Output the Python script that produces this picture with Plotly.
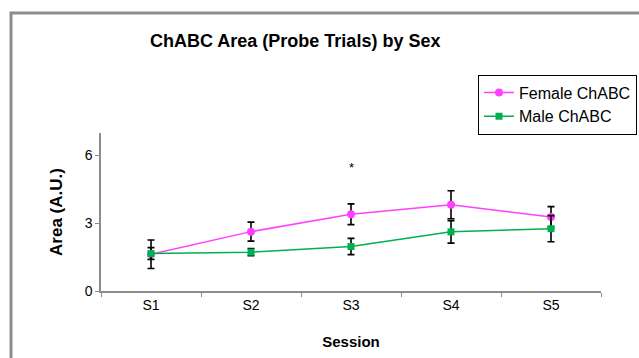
import plotly.graph_objects as go

sessions = ["S1", "S2", "S3", "S4", "S5"]
female_mean = [1.63, 2.63, 3.40, 3.82, 3.28]
female_err = [0.63, 0.42, 0.46, 0.62, 0.46]
male_mean = [1.66, 1.72, 1.97, 2.62, 2.76]
male_err = [0.26, 0.16, 0.36, 0.50, 0.58]
y_ticks = [0, 3, 6]
star_session = "S3"
star_y = 5.45

FONT = "Liberation Sans, Arial, sans-serif"

fig = go.Figure()
fig.add_trace(go.Scatter(
    x=sessions, y=female_mean, name="Female ChABC", mode="lines+markers",
    line=dict(color="#FF40FF", width=1.5),
    marker=dict(symbol="circle", size=8, color="#FF40FF"),
    error_y=dict(type="data", array=female_err, color="black", thickness=1.6, width=3.5),
))
fig.add_trace(go.Scatter(
    x=sessions, y=male_mean, name="Male ChABC", mode="lines+markers",
    line=dict(color="#00B050", width=1.5),
    marker=dict(symbol="square", size=7, color="#00B050"),
    error_y=dict(type="data", array=male_err, color="black", thickness=1.6, width=3.5),
))

fig.add_annotation(x=star_session, y=star_y, text="*", showarrow=False,
                   font=dict(size=13, color="black", family=FONT))

fig.add_annotation(xref="paper", yref="paper", x=0.388, y=1.582,
                   xanchor="center", yanchor="middle",
                   text="<b>ChABC Area (Probe Trials) by Sex</b>",
                   showarrow=False, font=dict(size=18, color="black", family=FONT))

# outer frame
fig.add_shape(type="rect", xref="paper", yref="paper",
              x0=-0.18, x1=1.2, y0=-0.5, y1=1.76,
              line=dict(color="#8c8c8c", width=3), fillcolor="rgba(0,0,0,0)", layer="below")

fig.update_layout(
    width=639, height=358,
    margin=dict(l=101, r=38, t=133, b=67, autoexpand=False),
    paper_bgcolor="white", plot_bgcolor="white",
    font=dict(family=FONT, size=14, color="black"),
    showlegend=True,
    legend=dict(x=0.754, y=1.37, xanchor="left", yanchor="top",
                bordercolor="black", borderwidth=1, bgcolor="white",
                font=dict(size=16, family=FONT), tracegroupgap=0,
                itemwidth=30),
    xaxis=dict(
        range=[-0.5, 4.5], showgrid=False, zeroline=False,
        showline=True, linecolor="#8c8c8c", linewidth=1.5,
        ticks="outside", tickson="boundaries", ticklen=4, tickcolor="#8c8c8c",
        title=dict(text="<b>Session</b>", font=dict(size=15, family=FONT), standoff=25),
        tickfont=dict(size=14, family=FONT),
    ),
    yaxis=dict(
        range=[0, 7], tickvals=y_ticks, showgrid=False, zeroline=False,
        showline=True, linecolor="#8c8c8c", linewidth=1.5,
        ticks="outside", ticklen=4, tickcolor="#8c8c8c",
        title=dict(text="<b>Area (A.U.)</b>", font=dict(size=17, family=FONT), standoff=18),
        tickfont=dict(size=14, family=FONT),
    ),
)

fig.write_html("out.html", config={"displayModeBar": False},
               post_script="document.body.style.margin='0';")
